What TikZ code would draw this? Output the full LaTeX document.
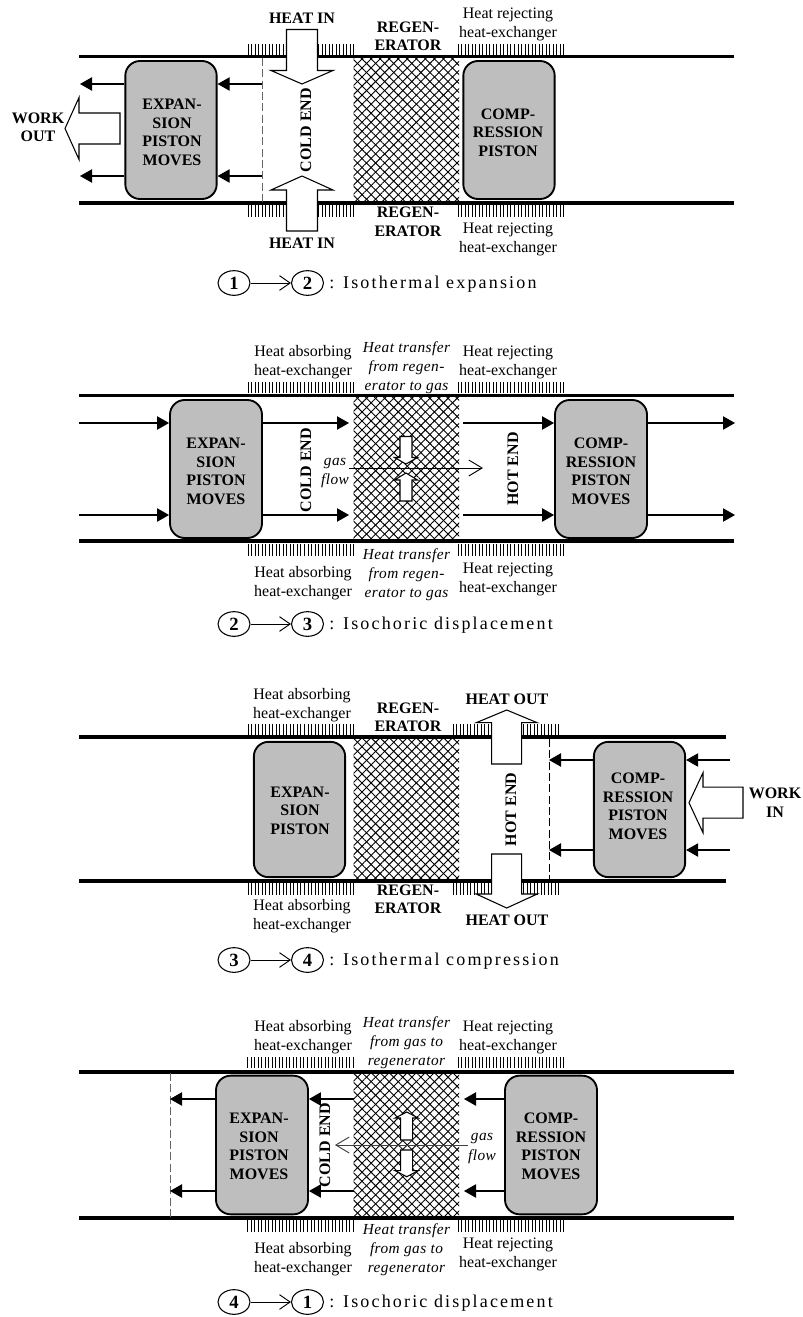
\documentclass[tikz,border=0pt]{standalone}
\usepackage{fontspec}
\setmainfont{Liberation Serif}
\newfontfamily\capfont[LetterSpace=12]{Liberation Serif}
\newfontfamily\slantfont[LetterSpace=3,ItalicFont={Liberation Serif Italic}]{Liberation Serif}
\usepackage{tikz}
\usetikzlibrary{arrows.meta, positioning, shapes.geometric, patterns.meta}
\definecolor{pistongray}{HTML}{BEBEBE}

\tikzset{
  wall/.style={line width=2.3pt},
  hxtick/.style={line width=0.5pt},
  flow/.style={line width=0.8pt, -{Triangle[length=9pt,width=10pt]}},
  gasflow/.style={line width=0.7pt, -{Straight Barb[length=10pt,width=12pt]}},
  hollow/.style={fill=white, draw=black, line width=0.8pt},
  piston/.style={draw, line width=1.4pt, fill=pistongray, rounded corners=11pt, inner sep=0pt},
  boldlab/.style={align=center, inner sep=0pt, font=\bfseries\fontsize{12}{13.9}\selectfont},
  hxlab/.style={align=center, inner sep=0pt, yshift=-1.1pt, font=\fontsize{12}{14.25}\selectfont},
  transferlab/.style={align=center, inner sep=0pt, yshift=-1.1pt, font=\slantfont\itshape\fontsize{11.5}{14.4}\selectfont},
  stepmark/.style={draw, ellipse, line width=0.8pt, minimum width=24pt, minimum height=18.5pt,
    inner sep=0pt, font=\bfseries\fontsize{14}{14}\selectfont},
  steptext/.style={anchor=west, inner sep=0pt, yshift=-1.2pt, font=\capfont\fontsize{13.5}{14}\selectfont},
  deadline/.style={dashed, line width=0.75pt, dash pattern=on 6pt off 2.5pt},
}

% Tube walls: y top, y bottom, x right
\newcommand{\tubewalls}[3]{
  \draw[wall] (79,#1) -- (#3,#1);
  \draw[wall] (79,#2) -- (#3,#2);
}
% Regenerator matrix between the walls
\newcommand{\regenmatrix}[2]{
  \fill[pattern={Lines[angle=45,distance=4.8pt,line width=0.7pt]}] (353.5,#1) rectangle (459,#2);
  \fill[pattern={Lines[angle=-45,distance=4.8pt,line width=0.7pt]}] (353.5,#1) rectangle (459,#2);
}
% Comb of the heat exchanger: x left, y from, y to
\newcommand{\hxcomb}[3]{
  \foreach \k in {0,...,30} {
    \draw[hxtick] ({#1+3.52*\k},#2) -- ({#1+3.52*\k},#3);
  }
}
% Hollow arrows: centre, tail, head base, tip, half shaft, half head
\newcommand{\hollowv}[6]{
  \draw[hollow] ({#1-#5},#2) -- ({#1-#5},#3) -- ({#1-#6},#3) -- (#1,#4) -- ({#1+#6},#3) -- ({#1+#5},#3) -- ({#1+#5},#2) -- cycle;
}
\newcommand{\hollowh}[6]{
  \draw[hollow] (#2,{#1-#5}) -- (#3,{#1-#5}) -- (#3,{#1-#6}) -- (#4,#1) -- (#3,{#1+#6}) -- (#3,{#1+#5}) -- (#2,{#1+#5}) -- cycle;
}
% Caption of a step: letter, y, from, to, text
\newcommand{\stepline}[5]{
  \node[stepmark] (from#1) at (234,#2) {#3};
  \node[stepmark] (to#1) at (307.5,#2) {#4};
  \draw[line width=0.7pt, -{Straight Barb[length=8pt,width=11pt]}] (from#1) -- (to#1);
  \node[steptext] (text#1) at (329,#2) {: #5};
}

\begin{document}
\begin{tikzpicture}[x=0.75pt, y=-0.75pt, >=Stealth]
  \useasboundingbox (0,0) rectangle (803,1317);

  % 1 -> 2
  \regenmatrix{58}{202}
  \hxcomb{248}{44}{54.5}
  \hxcomb{458}{44}{54.5}
  \hxcomb{248}{205}{217}
  \hxcomb{458}{205}{217}
  \tubewalls{56.5}{203}{734}
  \node[piston, minimum width=68.5pt, minimum height=103.5pt] (expA) at (171,130) {};
  \node[piston, minimum width=68.5pt, minimum height=103.5pt] (cmpA) at (509,130) {};
  \node[boldlab] (expAtext) at (172,132.5) {EXPAN-\\SION\\PISTON\\MOVES};
  \node[boldlab] (cmpAtext) at (508,132.5) {COMP-\\RESSION\\PISTON};
  \coordinate (dashAt) at (262,58);
  \coordinate (dashAb) at (262,202);
  \coordinate (dashAu) at (262,84);
  \coordinate (dashAd) at (262,176);
  \coordinate (endAu) at (80,84);
  \coordinate (endAd) at (80,176);
  \draw[deadline, black!60] (dashAt) -- (dashAb);
  \draw[flow] (dashAu) -- (expA.east |- dashAu);
  \draw[flow] (dashAd) -- (expA.east |- dashAd);
  \draw[flow] (expA.west |- dashAu) -- (endAu);
  \draw[flow] (expA.west |- dashAd) -- (endAd);
  \hollowv{302}{29.5}{70.5}{84}{15.5}{31}
  \hollowv{302}{231}{190}{176}{15.5}{31}
  \hollowh{128.5}{120}{79}{65}{15.5}{31}
  \node[boldlab] (workA) at (38,127.5) {WORK\\OUT};
  \node[boldlab] (heatAt) at (302,18) {HEAT IN};
  \node[boldlab] (heatAb) at (302,243) {HEAT IN};
  \node[boldlab, rotate=90] (coldA) at (306,130) {COLD END};
  \node[boldlab] (regenAt) at (408,36.5) {REGEN-\\ERATOR};
  \node[boldlab] (regenAb) at (408,222) {REGEN-\\ERATOR};
  \node[hxlab] (rejAt) at (508,22.5) {Heat rejecting\\heat-exchanger};
  \node[hxlab] (rejAb) at (508,237.5) {Heat rejecting\\heat-exchanger};
  \stepline{A}{283}{1}{2}{Isothermal expansion}

  % 2 -> 3
  \regenmatrix{397}{540}
  \hxcomb{248}{382}{393}
  \hxcomb{458}{382}{393}
  \hxcomb{248}{544}{555.5}
  \hxcomb{458}{544}{555.5}
  \tubewalls{395.5}{541}{734}
  \node[piston, minimum width=69pt, minimum height=103.5pt] (expB) at (216,469) {};
  \node[piston, minimum width=69pt, minimum height=103.5pt] (cmpB) at (601,469) {};
  \node[boldlab] (expBtext) at (216,471.5) {EXPAN-\\SION\\PISTON\\MOVES};
  \node[boldlab] (cmpBtext) at (601,471.5) {COMP-\\RESSION\\PISTON\\MOVES};
  \coordinate (inBu) at (79,423);
  \coordinate (inBd) at (79,515);
  \coordinate (regBu) at (349,423);
  \coordinate (regBd) at (349,515);
  \coordinate (hotBu) at (463,423);
  \coordinate (hotBd) at (463,515);
  \coordinate (outBu) at (735,423);
  \coordinate (outBd) at (735,515);
  \draw[flow] (inBu) -- (expB.west |- inBu);
  \draw[flow] (inBd) -- (expB.west |- inBd);
  \draw[flow] (expB.east |- regBu) -- (regBu);
  \draw[flow] (expB.east |- regBd) -- (regBd);
  \draw[flow] (hotBu) -- (cmpB.west |- hotBu);
  \draw[flow] (hotBd) -- (cmpB.west |- hotBd);
  \draw[flow] (cmpB.east |- outBu) -- (outBu);
  \draw[flow] (cmpB.east |- outBd) -- (outBd);
  \hollowv{406}{436.5}{457.5}{464}{6}{11.5}
  \hollowv{406}{501}{480}{473}{6}{11.5}
  \coordinate (gasBs) at (349,468);
  \coordinate (gasBe) at (483,468);
  \draw[gasflow] (gasBs) -- (gasBe);
  \node[transferlab] (gasB) at (335,471.5) {gas\\flow};
  \node[boldlab, rotate=90] (coldB) at (306,470) {COLD END};
  \node[boldlab, rotate=90] (hotB) at (513,469) {HOT END};
  \node[hxlab] (absBt) at (303,361) {Heat absorbing\\heat-exchanger};
  \node[hxlab] (rejBt) at (508,361) {Heat rejecting\\heat-exchanger};
  \node[transferlab] (transBt) at (406.5,366) {Heat transfer\\from regen-\\erator to gas};
  \node[hxlab] (absBb) at (303,581.5) {Heat absorbing\\heat-exchanger};
  \node[hxlab] (rejBb) at (508,577.5) {Heat rejecting\\heat-exchanger};
  \node[transferlab] (transBb) at (406.5,573) {Heat transfer\\from regen-\\erator to gas};
  \stepline{B}{624}{2}{3}{Isochoric displacement}

  % 3 -> 4
  \regenmatrix{739}{880}
  \hxcomb{248}{724}{735}
  \hxcomb{453}{724}{735}
  \hxcomb{248}{883}{895}
  \hxcomb{453}{883}{895}
  \tubewalls{737}{881}{726}
  \node[piston, minimum width=68.5pt, minimum height=101.5pt] (expC) at (299.5,809.5) {};
  \node[piston, minimum width=68.5pt, minimum height=101.5pt] (cmpC) at (639.5,809.5) {};
  \node[boldlab] (expCtext) at (300,810.5) {EXPAN-\\SION\\PISTON};
  \node[boldlab] (cmpCtext) at (638,806.5) {COMP-\\RESSION\\PISTON\\MOVES};
  \coordinate (dashCt) at (549,739);
  \coordinate (dashCb) at (549,880);
  \coordinate (dashCu) at (549,760);
  \coordinate (dashCd) at (549,850);
  \coordinate (endCu) at (730,760);
  \coordinate (endCd) at (730,850);
  \draw[deadline] (dashCt) -- (dashCb);
  \draw[flow] (endCu) -- (cmpC.east |- endCu);
  \draw[flow] (endCd) -- (cmpC.east |- endCd);
  \draw[flow] (cmpC.west |- dashCu) -- (dashCu);
  \draw[flow] (cmpC.west |- dashCd) -- (dashCd);
  \hollowv{506.7}{764}{722.7}{710}{15}{30.5}
  \hollowv{506.7}{854}{894}{908}{15}{30.5}
  \hollowh{802.7}{743}{703}{689}{15.5}{30}
  \node[boldlab] (workC) at (775,802.5) {WORK\\IN};
  \node[boldlab] (heatCt) at (507,699) {HEAT OUT};
  \node[boldlab] (heatCb) at (507,920) {HEAT OUT};
  \node[boldlab, rotate=90] (hotC) at (511,809.5) {HOT END};
  \node[boldlab] (regenCt) at (408,717.5) {REGEN-\\ERATOR};
  \node[boldlab] (regenCb) at (408,899.5) {REGEN-\\ERATOR};
  \node[hxlab] (absCt) at (302,703.5) {Heat absorbing\\heat-exchanger};
  \node[hxlab] (absCb) at (302,914.5) {Heat absorbing\\heat-exchanger};
  \stepline{C}{960}{3}{4}{Isothermal compression}

  % 4 -> 1
  \regenmatrix{1073}{1217}
  \hxcomb{247.5}{1057}{1068}
  \hxcomb{458}{1057}{1068}
  \hxcomb{247.5}{1220}{1232}
  \hxcomb{458}{1220}{1232}
  \tubewalls{1072}{1218}{734}
  \node[piston, minimum width=69pt, minimum height=104pt] (expD) at (262,1145) {};
  \node[piston, minimum width=69pt, minimum height=104pt] (cmpD) at (551,1145) {};
  \node[boldlab] (expDtext) at (259,1146.5) {EXPAN-\\SION\\PISTON\\MOVES};
  \node[boldlab] (cmpDtext) at (551,1146.5) {COMP-\\RESSION\\PISTON\\MOVES};
  \coordinate (dashDt) at (170,1073);
  \coordinate (dashDb) at (170,1217);
  \coordinate (dashDu) at (170,1099);
  \coordinate (dashDd) at (170,1191);
  \coordinate (regDu) at (353.5,1099);
  \coordinate (regDd) at (353.5,1191);
  \coordinate (hotDu) at (464,1099);
  \coordinate (hotDd) at (464,1191);
  \draw[deadline, black!60] (dashDt) -- (dashDb);
  \draw[flow] (expD.west |- dashDu) -- (dashDu);
  \draw[flow] (expD.west |- dashDd) -- (dashDd);
  \draw[flow] (regDu) -- (expD.east |- regDu);
  \draw[flow] (regDd) -- (expD.east |- regDd);
  \draw[flow] (cmpD.west |- hotDu) -- (hotDu);
  \draw[flow] (cmpD.west |- hotDd) -- (hotDd);
  \hollowv{406.7}{1140}{1118}{1112}{6}{11.5}
  \hollowv{406.7}{1150}{1170.7}{1176.7}{6}{11.5}
  \coordinate (gasDs) at (468,1145);
  \coordinate (gasDe) at (335,1145);
  \draw[gasflow, black!75] (gasDs) -- (gasDe);
  \node[transferlab] (gasD) at (482,1147) {gas\\flow};
  \node[boldlab, rotate=90] (coldD) at (325,1145) {COLD END};
  \node[hxlab] (absDt) at (303,1036) {Heat absorbing\\heat-exchanger};
  \node[hxlab] (rejDt) at (508,1036) {Heat rejecting\\heat-exchanger};
  \node[transferlab] (transDt) at (406.5,1041) {Heat transfer\\from gas to\\regenerator};
  \node[hxlab] (absDb) at (303,1258) {Heat absorbing\\heat-exchanger};
  \node[hxlab] (rejDb) at (508,1252.5) {Heat rejecting\\heat-exchanger};
  \node[transferlab] (transDb) at (406.5,1248) {Heat transfer\\from gas to\\regenerator};
  \stepline{D}{1302}{4}{1}{Isochoric displacement}
\end{tikzpicture}
\end{document}
